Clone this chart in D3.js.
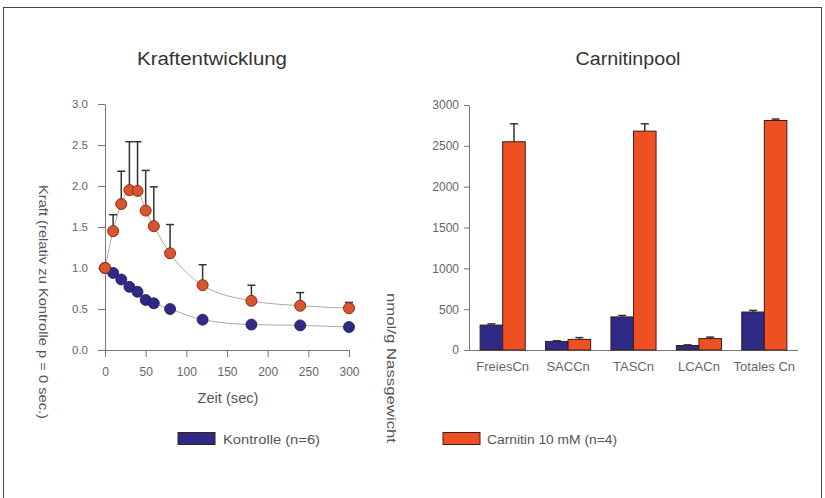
<!DOCTYPE html>
<html><head><meta charset="utf-8">
<script src="https://cdn.jsdelivr.net/npm/d3@7"></script>
<style>
body{margin:0;background:#fff;}
svg{display:block;font-family:"Liberation Sans",Arial,sans-serif;}
</style></head><body>
<svg id="c" width="825" height="498"></svg>
<script>
// ---- Data: Kraftentwicklung ----
const times = [0, 10, 20, 30, 40, 50, 60, 80, 120, 180, 240, 300];
const kontrolleKraft = [1.0, 0.94, 0.86, 0.77, 0.71, 0.61, 0.57, 0.50, 0.37, 0.31, 0.30, 0.28];
const carnitinKraft = [1.0, 1.45, 1.78, 1.95, 1.94, 1.70, 1.51, 1.18, 0.79, 0.60, 0.54, 0.51];
const carnitinKraftErr = [0, 0.20, 0.40, 0.59, 0.60, 0.49, 0.48, 0.35, 0.25, 0.19, 0.16, 0.07];
const kraftTicks = [0, 0.5, 1.0, 1.5, 2.0, 2.5, 3.0];
const zeitTicks = [0, 50, 100, 150, 200, 250, 300];

// ---- Data: Carnitinpool ----
const categories = ["FreiesCn", "SACCn", "TASCn", "LCACn", "Totales Cn"];
const kontrollePool = [305, 105, 405, 55, 465];
const kontrollePoolErr = [15, 8, 18, 8, 20];
const carnitinPool = [2550, 130, 2680, 140, 2810];
const carnitinPoolErr = [220, 22, 90, 18, 18];
const poolTicks = [0, 500, 1000, 1500, 2000, 2500, 3000];

const seriesNames = ["Kontrolle (n=6)", "Carnitin 10 mM (n=4)"];

const BLUE = "#2e2a86", RED = "#ee5024";
const svg = d3.select("#c");

function fit(sel, len) {
  return sel.attr("textLength", len).attr("lengthAdjust", "spacingAndGlyphs");
}

// frame
svg.append("rect").attr("x", 3.5).attr("y", 7.5).attr("width", 818).attr("height", 520)
  .attr("fill", "none").attr("stroke", "#444").attr("stroke-width", 1);

function styleAxis(size) {
  return g => {
    g.selectAll("path.domain").attr("stroke", "#777");
    g.selectAll(".tick line").attr("stroke", "#777");
    g.selectAll(".tick text").attr("fill", "#666").attr("font-size", size)
      .attr("font-family", "'Liberation Sans',Arial,sans-serif");
  };
}

// ===== Left chart =====
const xL = d3.scaleLinear().domain([0, 300]).range([105, 349]);
const yL = d3.scaleLinear().domain([0, 3]).range([350, 104]);

svg.append("g").attr("transform", "translate(0,350)")
  .call(d3.axisBottom(xL).tickValues(zeitTicks).tickSize(7).tickSizeOuter(0).tickPadding(10))
  .call(styleAxis(12));
svg.append("g").attr("transform", "translate(105,0)")
  .call(d3.axisLeft(yL).tickValues(kraftTicks).tickFormat(d3.format(".1f")).tickSize(7).tickSizeOuter(0).tickPadding(10))
  .call(styleAxis(11.5));

fit(svg.append("text").attr("x", 212).attr("y", 65).attr("text-anchor", "middle")
  .attr("font-size", 18).attr("fill", "#333").text("Kraftentwicklung"), 150);
fit(svg.append("text").attr("x", 228).attr("y", 403).attr("text-anchor", "middle")
  .attr("font-size", 14).attr("fill", "#555").text("Zeit (sec)"), 61);
fit(svg.append("text").attr("transform", "translate(39,302) rotate(90)").attr("text-anchor", "middle")
  .attr("font-size", 13).attr("fill", "#555").text("Kraft (relativ zu Kontrolle p = 0 sec.)"), 234);

const lineGen = d3.line().x(d => xL(d[0])).y(d => yL(d[1])).curve(d3.curveMonotoneX);
const kData = times.map((t, i) => [t, kontrolleKraft[i]]);
const cData = times.map((t, i) => [t, carnitinKraft[i], carnitinKraftErr[i]]);

svg.append("path").attr("d", lineGen(cData)).attr("fill", "none").attr("stroke", "#aaa").attr("stroke-width", 1);
svg.append("path").attr("d", lineGen(kData)).attr("fill", "none").attr("stroke", "#aaa").attr("stroke-width", 1);

// error bars (carnitin)
const eb = svg.append("g").attr("stroke", "#333").attr("stroke-width", 1.5);
cData.filter(d => d[2] > 0).forEach(d => {
  eb.append("line").attr("x1", xL(d[0])).attr("x2", xL(d[0])).attr("y1", yL(d[1])).attr("y2", yL(d[1] + d[2]));
  eb.append("line").attr("x1", xL(d[0]) - 4).attr("x2", xL(d[0]) + 4).attr("y1", yL(d[1] + d[2])).attr("y2", yL(d[1] + d[2]));
});

svg.append("g").selectAll("circle").data(kData).join("circle")
  .attr("cx", d => xL(d[0])).attr("cy", d => yL(d[1])).attr("r", 5.5)
  .attr("fill", BLUE).attr("stroke", "#1d1a5a").attr("stroke-width", 0.8);
svg.append("g").selectAll("circle").data(cData).join("circle")
  .attr("cx", d => xL(d[0])).attr("cy", d => yL(d[1])).attr("r", 5.5)
  .attr("fill", "#d8552f").attr("stroke", "#8a2a16").attr("stroke-width", 1);

// ===== Right chart =====
const xR = d3.scaleBand().domain(categories).range([469, 798]).paddingInner(0.31).paddingOuter(0.17);
const xS = d3.scaleBand().domain([0, 1]).range([0, xR.bandwidth()]);
const yR = d3.scaleLinear().domain([0, 3000]).range([350, 105]);

svg.append("g").attr("transform", "translate(469,0)")
  .call(d3.axisLeft(yR).tickValues(poolTicks).tickFormat(d3.format("d")).tickSize(5).tickSizeOuter(0).tickPadding(5))
  .call(styleAxis(12));
const xAxR = svg.append("g").attr("transform", "translate(0,350)")
  .call(d3.axisBottom(xR).tickSize(0).tickSizeOuter(0).tickPadding(12))
  .call(styleAxis(13));
xAxR.select("path.domain").attr("d", "M469,0.5H798");

fit(svg.append("text").attr("x", 628).attr("y", 65).attr("text-anchor", "middle")
  .attr("font-size", 18).attr("fill", "#333").text("Carnitinpool"), 105);
fit(svg.append("text").attr("transform", "translate(387,368) rotate(90)").attr("text-anchor", "middle")
  .attr("font-size", 13).attr("fill", "#555").text("nmol/g Nassgewicht"), 150);

const series = [
  { vals: kontrollePool, errs: kontrollePoolErr, color: BLUE },
  { vals: carnitinPool, errs: carnitinPoolErr, color: RED }
];
const ebR = svg.append("g").attr("stroke", "#333").attr("stroke-width", 1.5);
series.forEach((s, si) => {
  categories.forEach((c, i) => {
    const x0 = xR(c) + xS(si), w = xS.bandwidth(), cx = x0 + w / 2;
    const top = yR(s.vals[i] + s.errs[i]);
    ebR.append("line").attr("x1", cx).attr("x2", cx).attr("y1", yR(s.vals[i])).attr("y2", top);
    ebR.append("line").attr("x1", cx - 4).attr("x2", cx + 4).attr("y1", top).attr("y2", top);
  });
  svg.append("g").selectAll("rect").data(s.vals).join("rect")
    .attr("x", (d, i) => xR(categories[i]) + xS(si)).attr("width", xS.bandwidth())
    .attr("y", d => yR(d)).attr("height", d => yR(0) - yR(d))
    .attr("fill", s.color).attr("stroke", "#3a1f1a").attr("stroke-width", 1);
});

// ===== Legend =====
const legendPos = [[178, 223], [443, 487]];
const legendLen = [97, 130];
seriesNames.forEach((n, i) => {
  svg.append("rect").attr("x", legendPos[i][0]).attr("y", 432.5).attr("width", 37).attr("height", 12)
    .attr("fill", i === 0 ? BLUE : RED).attr("stroke", "#3a1f1a").attr("stroke-width", 1);
  fit(svg.append("text").attr("x", legendPos[i][1]).attr("y", 443.5).attr("font-size", 13)
    .attr("fill", "#555").text(n), legendLen[i]);
});
</script>
</body></html>
